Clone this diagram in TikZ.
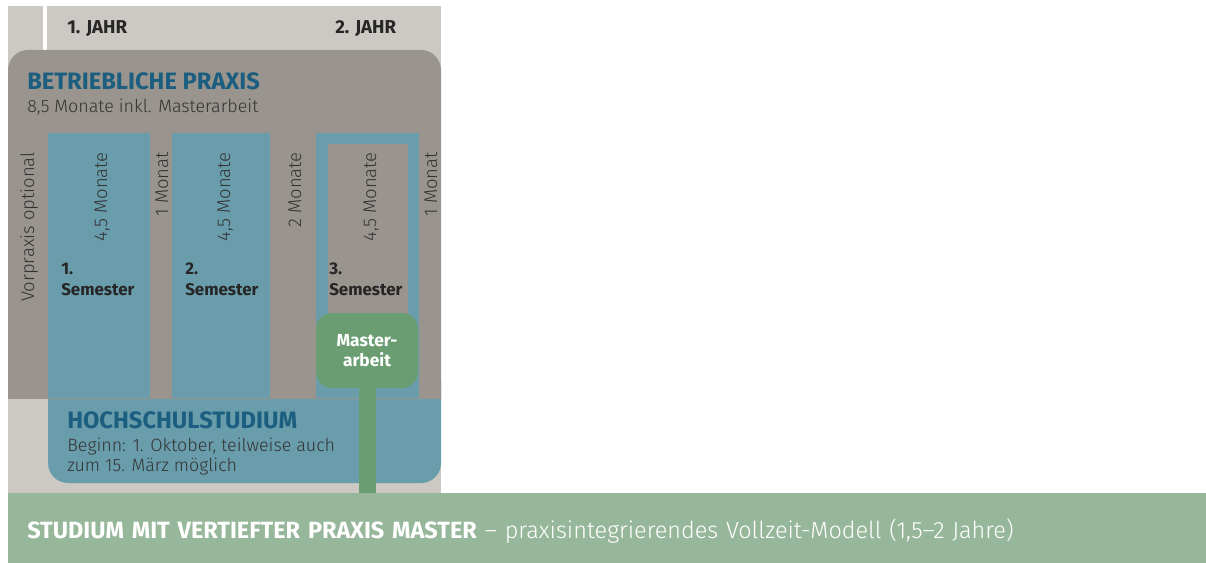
\documentclass[tikz,border=0pt]{standalone}
\usepackage{fontspec}
\setmainfont{Fira Sans}
\newfontfamily\lightfont{Fira Sans Light}
\usetikzlibrary{calc}
\definecolor{paper}{HTML}{CCC9C4}
\definecolor{praxis}{HTML}{99948E}
\definecolor{studium}{HTML}{6A9DAB}
\definecolor{titleblue}{HTML}{1B5E80}
\definecolor{thesis}{HTML}{6A9E72}
\definecolor{band}{HTML}{97B79A}
\definecolor{ink}{HTML}{333333}

\begin{document}
\begin{tikzpicture}[x=0.75pt,y=-0.75pt,
    year/.style={font=\bfseries\fontsize{14}{16}\selectfont,text=black!85,inner sep=0,anchor=base west},
    head/.style={font=\bfseries\fontsize{17.8}{20}\selectfont,text=titleblue,inner sep=0,anchor=base west},
    sub/.style={font=\lightfont\fontsize{13.4}{14.3}\selectfont,text=ink,inner sep=0,anchor=base west,align=left},
    dur/.style={font=\lightfont\fontsize{13.8}{15}\selectfont,text=ink,inner sep=0,rotate=90,anchor=base east},
    sem/.style={font=\bfseries\fontsize{12.7}{15.75}\selectfont,text=black!85,inner sep=0,anchor=base west,align=left}]
  \useasboundingbox (0,0) rectangle (1206,563);
  \fill[paper] (8,6) rectangle (441,493);
  \fill[white] (43,6) rectangle (47,50);
  \fill[studium,rounded corners=15] (48,360) rectangle (441,483);
  \begin{scope}
    \clip (0,0) rectangle (441,398);
    \fill[praxis,rounded corners=15] (8,50) rectangle (441,430);
  \end{scope}
  \foreach \l/\r in {48/150,172/270,316/419}
    \fill[studium] (\l,133) rectangle (\r,398);
  \fill[praxis] (328,144) rectangle (408,330);
  % years and headings
  \node[year] (jahr1) at (67,34) {1. JAHR};
  \node[year] (jahr2) at (335,34) {2. JAHR};
  \node[head] (praxishead) at (27,90) {BETRIEBLICHE PRAXIS};
  \node[sub] (praxissub) at (27,113) {8,5 Monate inkl. Masterarbeit};
  \foreach \x/\t [count=\i] in {34/{Vorpraxis optional},107/{4,5 Monate},168/{1 Monat},
      230/{4,5 Monate},301/{2 Monate},376/{4,5 Monate},437/{1 Monat}}
    \node[dur] (dur\i) at (\x,152) {\t};
  \foreach \x [count=\i] in {61,185,329}
    \node[sem] (sem\i) at (\x,295) {\i.\\Semester};
  \node[head] (studhead) at (67,428) {HOCHSCHULSTUDIUM};
  \node[sub] (studsub) at (67,471) {Beginn: 1. Oktober, teilweise auch\\zum 15. März möglich};
  % master thesis and band
  \node[fill=thesis,rounded corners=12,minimum width=76.5pt,minimum height=56.25pt,inner sep=0,
    font=\bfseries\fontsize{13}{15}\selectfont,text=white,align=center] (thesis) at (367,350.5) {Master-\\arbeit};
  \node[fill=band,anchor=north west,minimum height=52.5pt,inner ysep=0,inner xsep=14.25pt,text width=870pt,
    text height=17pt,text depth=2pt,
    font=\fontsize{17.6}{19}\selectfont,text=white,align=left] (band) at (8,493)
    {\textbf{STUDIUM MIT VERTIEFTER PRAXIS MASTER} {\lightfont – praxisintegrierendes Vollzeit-Modell (1,5–2 Jahre)}};
  \draw[thesis,line width=12.75pt] (thesis.south) -- (thesis.south |- band.north);
\end{tikzpicture}
\end{document}
